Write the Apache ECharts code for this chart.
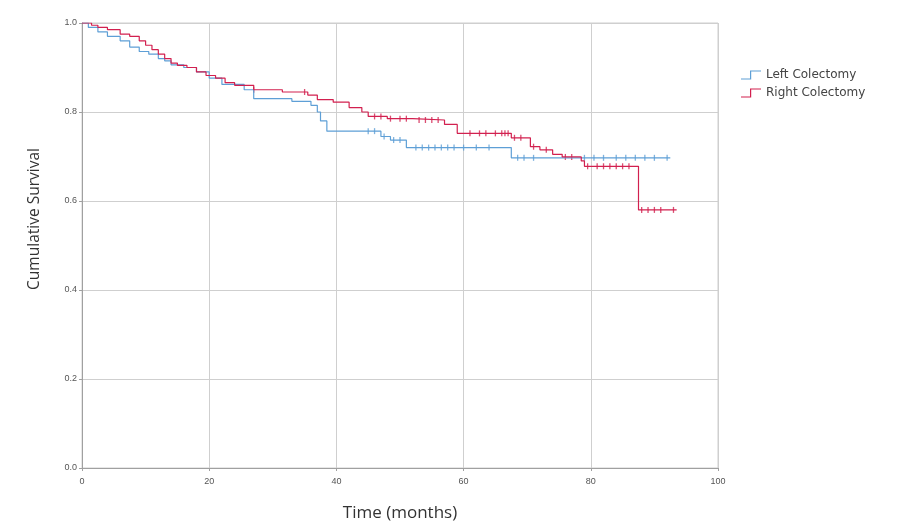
<!DOCTYPE html>
<html>
<head>
<meta charset="utf-8">
<script src="https://cdn.jsdelivr.net/npm/echarts@6/dist/echarts.min.js"></script>
<style>
html,body{margin:0;padding:0;background:#fff;}
#km{width:898px;height:522px;}
</style>
</head>
<body>
<div id="km"></div>
<script>
// months + survival estimates (step after)
const leftTimes = [0, 1, 2.5, 4, 6, 7.5, 9, 10.5, 12, 13, 14, 16, 18, 20, 22, 25.5, 27, 33, 36, 37, 37.5, 38.5, 47, 48.5, 51, 67.5, 92.5];
const leftSurv  = [1.0, 0.99, 0.98, 0.97, 0.96, 0.946, 0.936, 0.93, 0.92, 0.915, 0.906, 0.9, 0.89, 0.876, 0.862, 0.85, 0.83, 0.824, 0.815, 0.8, 0.78, 0.757, 0.745, 0.737, 0.72, 0.697, 0.697];
const rightTimes = [0, 1.5, 2.5, 4, 6, 7.5, 9, 10, 11, 12, 13, 14, 15, 16.5, 18, 19.5, 21, 22.5, 24, 27, 31.5, 35.5, 37, 39.5, 42, 44, 45, 48, 52, 57, 59, 67.5, 70.5, 72, 74, 75.5, 78.5, 79, 87.5, 93.5];
const rightSurv  = [1.0, 0.995, 0.99, 0.985, 0.975, 0.97, 0.96, 0.95, 0.94, 0.93, 0.92, 0.91, 0.905, 0.9, 0.89, 0.882, 0.876, 0.866, 0.86, 0.85, 0.845, 0.838, 0.828, 0.822, 0.81, 0.8, 0.79, 0.785, 0.782, 0.772, 0.752, 0.742, 0.722, 0.715, 0.705, 0.699, 0.69, 0.678, 0.58, 0.58];
// censored cases (time in months)
const leftCensor  = [45, 46, 47.5, 49, 50, 52.5, 53.5, 54.5, 55.5, 56.5, 57.5, 58.5, 60, 62, 64, 68.5, 69.5, 71, 79, 80.5, 82, 84, 85.5, 87, 88.5, 90, 92];
const rightCensor = [27, 35, 46, 47, 48.5, 50, 51, 53, 54, 55, 56, 61, 62.5, 63.5, 65, 66, 66.5, 67, 68, 69, 71, 73, 76, 77, 79.5, 81, 82, 83, 84, 85, 86, 88, 89, 90, 91, 93];

const xTicks = [0, 20, 40, 60, 80, 100];
const yTicks = [0, 0.2, 0.4, 0.6, 0.8, 1.0];

const blue = '#5e9fd6';
const red = '#d2204f';
// little step drawn as legend icon (thin filled outline, 20x10 box)
const stepIcon = 'path://M0,8 L9,8 L9,0 L20,0 L20,1.2 L10.2,1.2 L10.2,9.2 L0,9.2 Z';

function survAt(times, surv, t){
    let s = surv[0];
    for(let i=0;i<times.length;i++){
        if(times[i] <= t) s = surv[i];
    }
    return s;
}
function pairs(times, surv){
    return times.map((t,i)=>[t, surv[i]]);
}
function censorPts(cens, times, surv){
    return cens.map(t=>[t, survAt(times, surv, t)]);
}

let myChart = echarts.init(document.getElementById('km'));
let option = {
    animation: false,
    textStyle: { fontFamily: 'Liberation Sans, Arial, sans-serif' },
    grid: { left: 82, right: 180, top: 23, bottom: 54, outerBoundsMode: 'none', show: true, borderColor: '#cfcfcf', borderWidth: 1 },
    legend: {
        orient: 'vertical',
        left: 736,
        top: 63,
        itemWidth: 20,
        itemHeight: 10,
        itemGap: 4,
        textStyle: { fontSize: 12, lineHeight: 14, color: '#444', fontFamily: 'DejaVu Sans' },
        data: [
            { name: 'Left Colectomy', icon: stepIcon, itemStyle: { color: blue } },
            { name: 'Right Colectomy', icon: stepIcon, itemStyle: { color: red } }
        ]
    },
    graphic: [
        {
            type: 'text',
            x: 35,
            y: 219,
            rotation: Math.PI / 2,
            style: {
                text: 'Cumulative Survival',
                x: 0, y: 0,
                align: 'center',
                verticalAlign: 'middle',
                fontSize: 15.5,
                fontFamily: 'Open Sans',
                fill: '#333'
            }
        }
    ],
    xAxis: {
        type: 'value',
        min: 0, max: 100, interval: 20,
        name: 'Time (months)',
        nameLocation: 'middle',
        nameGap: 37,
        nameTextStyle: { fontSize: 17, color: '#333', fontFamily: 'Open Sans' },
        axisLine: { lineStyle: { color: '#a0a0a0' } },
        axisTick: { show: true, length: 3, lineStyle: { color: '#a0a0a0' } },
        axisLabel: { fontSize: 9, color: '#555', margin: 9, formatter: v => xTicks.includes(v) ? String(v) : '' },
        splitLine: { show: true, lineStyle: { color: '#cfcfcf' } }
    },
    yAxis: {
        type: 'value',
        min: 0, max: 1, interval: 0.2,
        axisLine: { show: true, lineStyle: { color: '#a0a0a0' } },
        axisTick: { show: true, length: 3, lineStyle: { color: '#a0a0a0' } },
        axisLabel: { fontSize: 9, color: '#555', margin: 5, formatter: v => yTicks.some(y=>Math.abs(y-v)<1e-6) ? v.toFixed(1) : '' },
        splitLine: { show: true, lineStyle: { color: '#cfcfcf' } }
    },
    series: [
        {
            name: 'Left Colectomy',
            type: 'line',
            step: 'end',
            showSymbol: false,
            color: blue,
            lineStyle: { width: 1.2, color: blue },
            data: pairs(leftTimes, leftSurv)
        },
        {
            name: 'Right Colectomy',
            type: 'line',
            step: 'end',
            showSymbol: false,
            color: red,
            lineStyle: { width: 1.2, color: red },
            data: pairs(rightTimes, rightSurv)
        },
        {
            name: 'Left censored',
            type: 'scatter',
            symbol: 'rect',
            symbolSize: [1.3, 6],
            itemStyle: { color: blue },
            data: censorPts(leftCensor, leftTimes, leftSurv)
        },
        {
            name: 'Right censored',
            type: 'scatter',
            symbol: 'rect',
            symbolSize: [1.3, 6],
            itemStyle: { color: red },
            data: censorPts(rightCensor, rightTimes, rightSurv)
        }
    ]
};
myChart.setOption(option);
</script>
</body>
</html>
